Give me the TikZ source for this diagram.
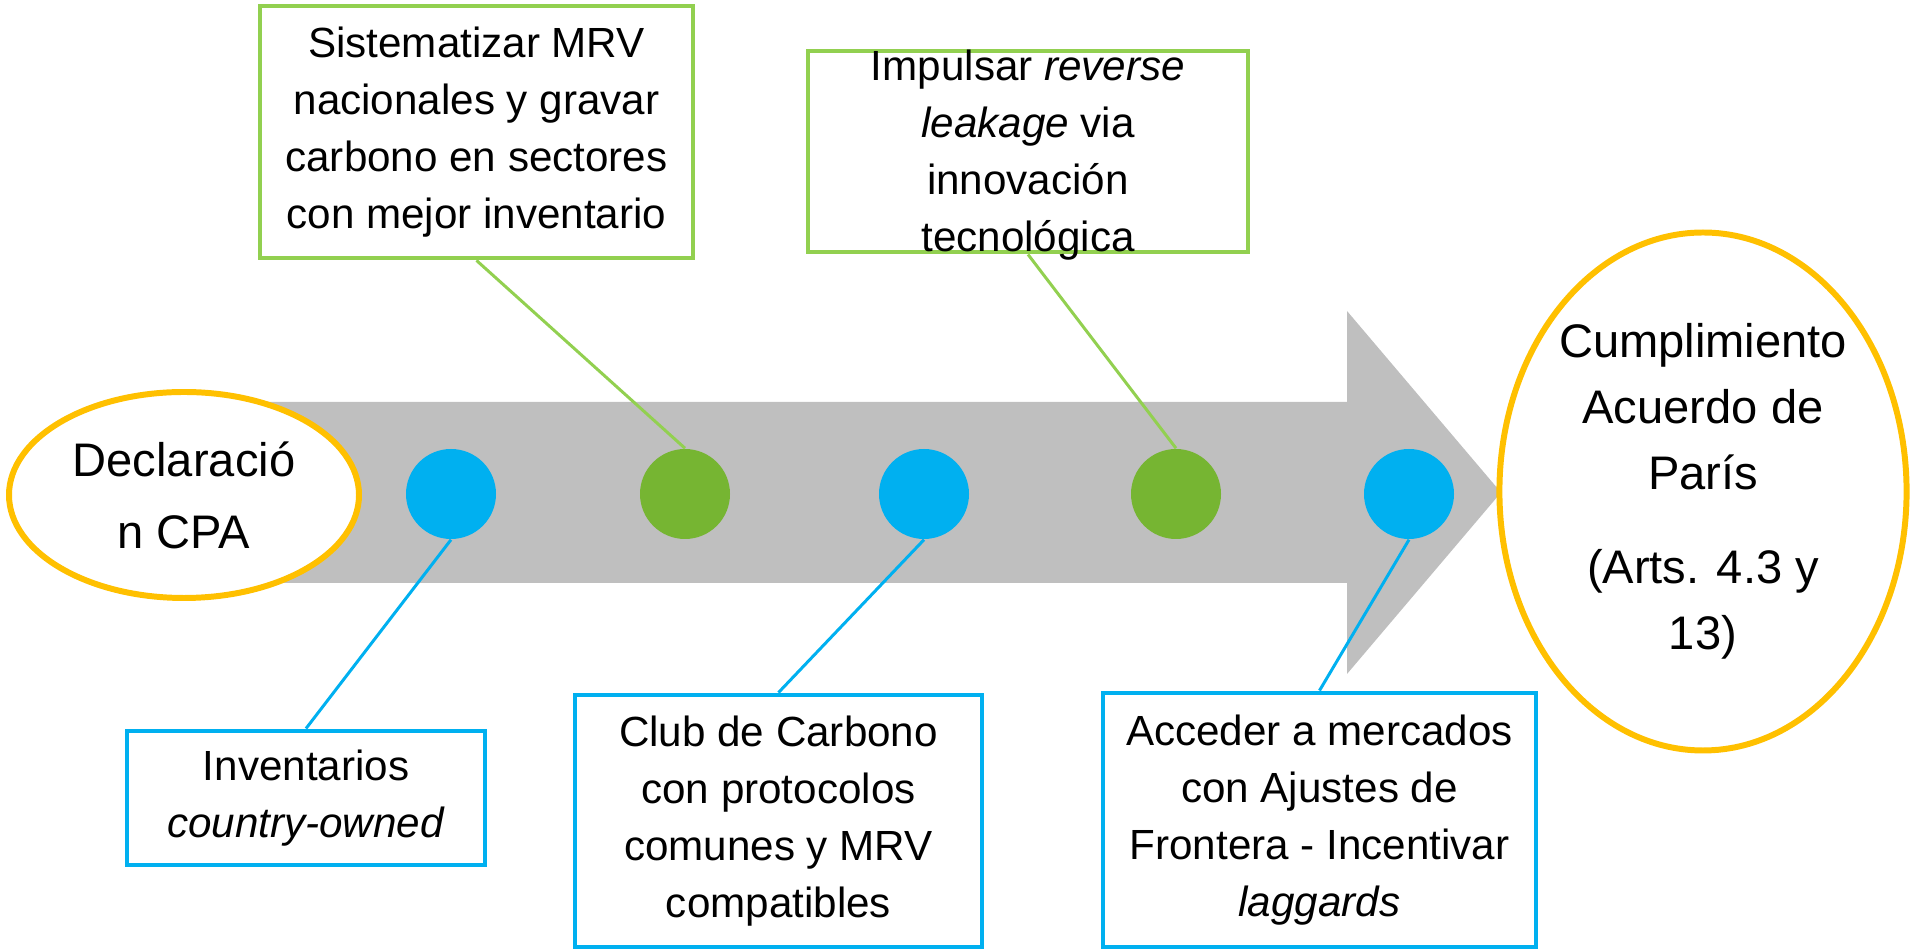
\documentclass[tikz,border=0pt]{standalone}
\usepackage{fontspec}
\setmainfont{Liberation Sans}
\usepackage{tikz}
\usetikzlibrary{shapes.geometric}
\definecolor{barGray}{RGB}{191,191,191}
\definecolor{dotBlue}{RGB}{0,176,240}
\definecolor{dotGreen}{RGB}{118,181,50}
\definecolor{boxGreen}{RGB}{146,208,80}
\definecolor{goalOrange}{RGB}{255,192,0}
\tikzset{
  boxtext/.style={align=center,inner sep=0pt,font=\fontsize{12}{16.2}\selectfont},
  greenbox/.style={boxtext,draw=boxGreen,line width=1.4pt,fill=white},
  bluebox/.style={boxtext,draw=dotBlue,line width=1.4pt,fill=white},
  dot/.style={circle,minimum size=0.9cm,inner sep=0pt},
  goal/.style={ellipse,draw=goalOrange,line width=1.7pt,fill=white,align=center,inner sep=0pt},
  greenline/.style={draw=boxGreen,line width=0.85pt},
  blueline/.style={draw=dotBlue,line width=0.85pt}
}

\begin{document}
\begin{tikzpicture}
\useasboundingbox (0,0) rectangle (19.11,9.5);
% big arrow
\fill[barGray] (2.56,5.48) -- (13.47,5.48) -- (13.47,6.39) -- (15.01,4.575)
  -- (13.47,2.76) -- (13.47,3.67) -- (2.56,3.67) -- cycle;
% start and goal
\node[goal,minimum width=3.5cm,minimum height=2.06cm,
  font=\fontsize{13.4}{20.5}\selectfont] (decl) at (1.84,4.55) {Declaració\\n CPA};
\node[goal,minimum width=4.06cm,minimum height=5.18cm,
  font=\fontsize{13.4}{18.8}\selectfont] (paris) at (17.03,4.585)
  {Cumplimiento\\Acuerdo de\\París\\[7.9pt](Arts. 4.3 y\\13)};
% boxes on top
\node[greenbox,minimum width=4.33cm,minimum height=2.52cm] (sys) at (4.765,8.18)
  {Sistematizar MRV\\nacionales y gravar\\carbono en sectores\\con mejor inventario};
\node[greenbox,minimum width=4.40cm,minimum height=2.01cm] (imp) at (10.28,7.985) {};
\node[boxtext] (imptext) at (10.28,7.95)
  {Impulsar \textit{reverse}\\\textit{leakage} via\\innovación\\tecnológica};
% boxes below
\node[bluebox,minimum width=3.58cm,minimum height=1.34cm] (inv) at (3.06,1.52)
  {Inventarios\\\textit{country-owned}};
\node[bluebox,minimum width=4.07cm,minimum height=2.52cm] (club) at (7.785,1.29)
  {Club de Carbono\\con protocolos\\comunes y MRV\\compatibles};
\node[bluebox,minimum width=4.33cm,minimum height=2.54cm] (acc) at (13.195,1.30)
  {Acceder a mercados\\con Ajustes de\\Frontera - Incentivar\\\textit{laggards}};
% dots on the arrow
\node[dot,fill=dotBlue] (c1) at (4.51,4.56) {};
\node[dot,fill=dotGreen] (c2) at (6.85,4.56) {};
\node[dot,fill=dotBlue] (c3) at (9.24,4.56) {};
\node[dot,fill=dotGreen] (c4) at (11.76,4.56) {};
\node[dot,fill=dotBlue] (c5) at (14.09,4.56) {};
% connectors
\draw[greenline] (sys.south) -- (c2.north);
\draw[greenline] (imp.south) -- (c4.north);
\draw[blueline] (c1.south) -- (inv.north);
\draw[blueline] (c3.south) -- (club.north);
\draw[blueline] (c5.south) -- (acc.north);
\end{tikzpicture}
\end{document}
